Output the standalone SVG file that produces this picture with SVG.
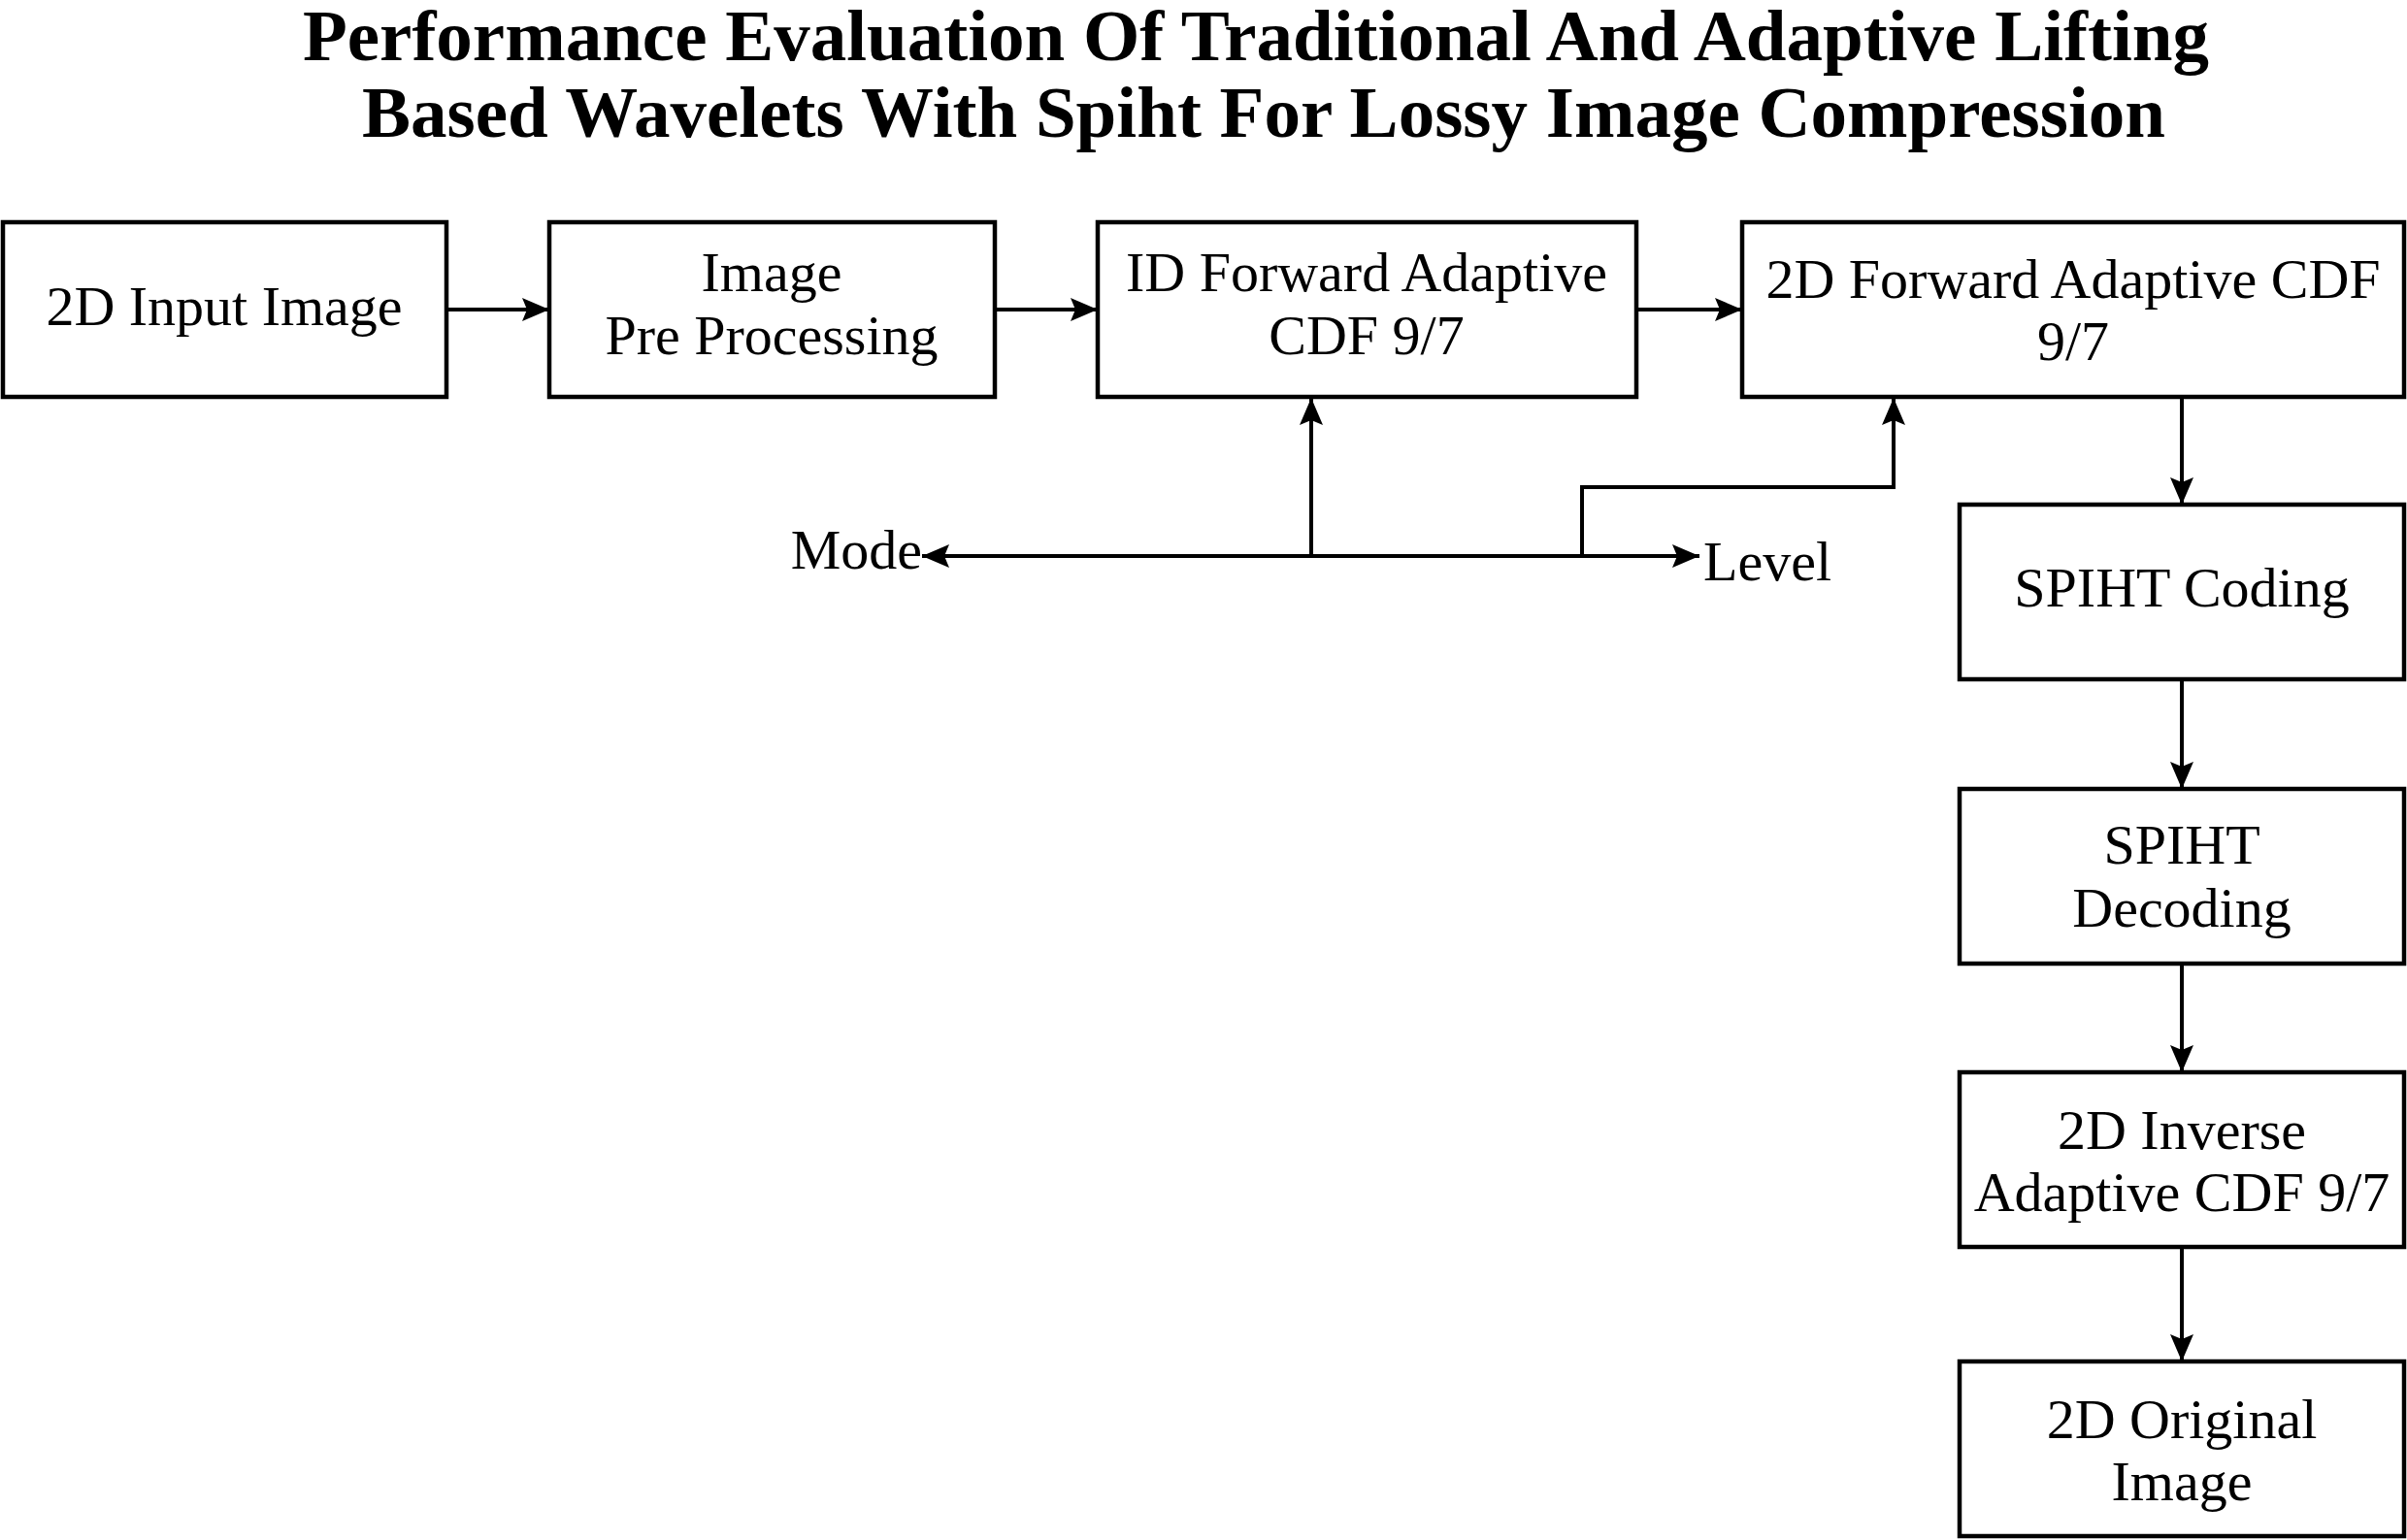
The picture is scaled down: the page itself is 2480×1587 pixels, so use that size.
<svg xmlns="http://www.w3.org/2000/svg" width="2480" height="1587" viewBox="0 0 2480 1587">
<style>
.box{fill:#fff;stroke:#000;stroke-width:4.5}
.t{font-family:"Liberation Serif","Times New Roman",serif;font-size:58px;fill:#000;text-anchor:middle}
.title{font-family:"Liberation Serif","Times New Roman",serif;font-size:75px;font-weight:bold;fill:#000;text-anchor:middle}
.c{fill:none;stroke:#000;stroke-width:4}
</style>
<defs>
<marker id="ah" viewBox="0 0 28 24" refX="28" refY="12" markerWidth="28" markerHeight="24" markerUnits="userSpaceOnUse" orient="auto-start-reverse">
<path d="M0,0 L28,12 L0,24 L5,12 Z" fill="#000"/>
</marker>
</defs>
<rect width="2480" height="1587" fill="#fff"/>
<g id="title">
<text class="title" x="1294" y="62">Performance Evaluation Of Traditional And Adaptive Lifting</text>
<text class="title" x="1302" y="141">Based Wavelets With Spiht For Lossy Image Compression</text>
</g>
<g id="connectors">
<line class="c" x1="460" y1="319" x2="566" y2="319" marker-end="url(#ah)"/>
<line class="c" x1="1025" y1="319" x2="1131" y2="319" marker-end="url(#ah)"/>
<line class="c" x1="1686" y1="319" x2="1795" y2="319" marker-end="url(#ah)"/>
<line class="c" x1="950" y1="573" x2="1751" y2="573" marker-start="url(#ah)" marker-end="url(#ah)"/>
<line class="c" x1="1351" y1="573" x2="1351" y2="410" marker-end="url(#ah)"/>
<polyline class="c" points="1630,573 1630,502 1951,502 1951,410" marker-end="url(#ah)"/>
<line class="c" x1="2248" y1="410" x2="2248" y2="520" marker-end="url(#ah)"/>
<line class="c" x1="2248" y1="700" x2="2248" y2="813" marker-end="url(#ah)"/>
<line class="c" x1="2248" y1="993" x2="2248" y2="1105" marker-end="url(#ah)"/>
<line class="c" x1="2248" y1="1285" x2="2248" y2="1403" marker-end="url(#ah)"/>
<text class="t" x="950" y="586" style="text-anchor:end">Mode</text>
<text class="t" x="1755" y="598" style="text-anchor:start">Level</text>
</g>
<g id="n1"><rect class="box" x="3" y="229" width="457" height="180"/><text class="t" x="231" y="335">2D Input Image</text></g>
<g id="n2"><rect class="box" x="566" y="229" width="459" height="180"/><text class="t" x="795" y="300">Image</text><text class="t" x="795" y="365">Pre Processing</text></g>
<g id="n3"><rect class="box" x="1131" y="229" width="555" height="180"/><text class="t" x="1408" y="300">ID Forward Adaptive</text><text class="t" x="1408" y="365">CDF 9/7</text></g>
<g id="n4"><rect class="box" x="1795" y="229" width="682" height="180"/><text class="t" x="2136" y="307">2D Forward Adaptive CDF</text><text class="t" x="2136" y="371">9/7</text></g>
<g id="n5"><rect class="box" x="2019" y="520" width="458" height="180"/><text class="t" x="2248" y="625">SPIHT Coding</text></g>
<g id="n6"><rect class="box" x="2019" y="813" width="458" height="180"/><text class="t" x="2248" y="890">SPIHT</text><text class="t" x="2248" y="955">Decoding</text></g>
<g id="n7"><rect class="box" x="2019" y="1105" width="458" height="180"/><text class="t" x="2248" y="1184">2D Inverse</text><text class="t" x="2248" y="1248">Adaptive CDF 9/7</text></g>
<g id="n8"><rect class="box" x="2019" y="1403" width="458" height="180"/><text class="t" x="2248" y="1482">2D Original</text><text class="t" x="2248" y="1546">Image</text></g>
</svg>
